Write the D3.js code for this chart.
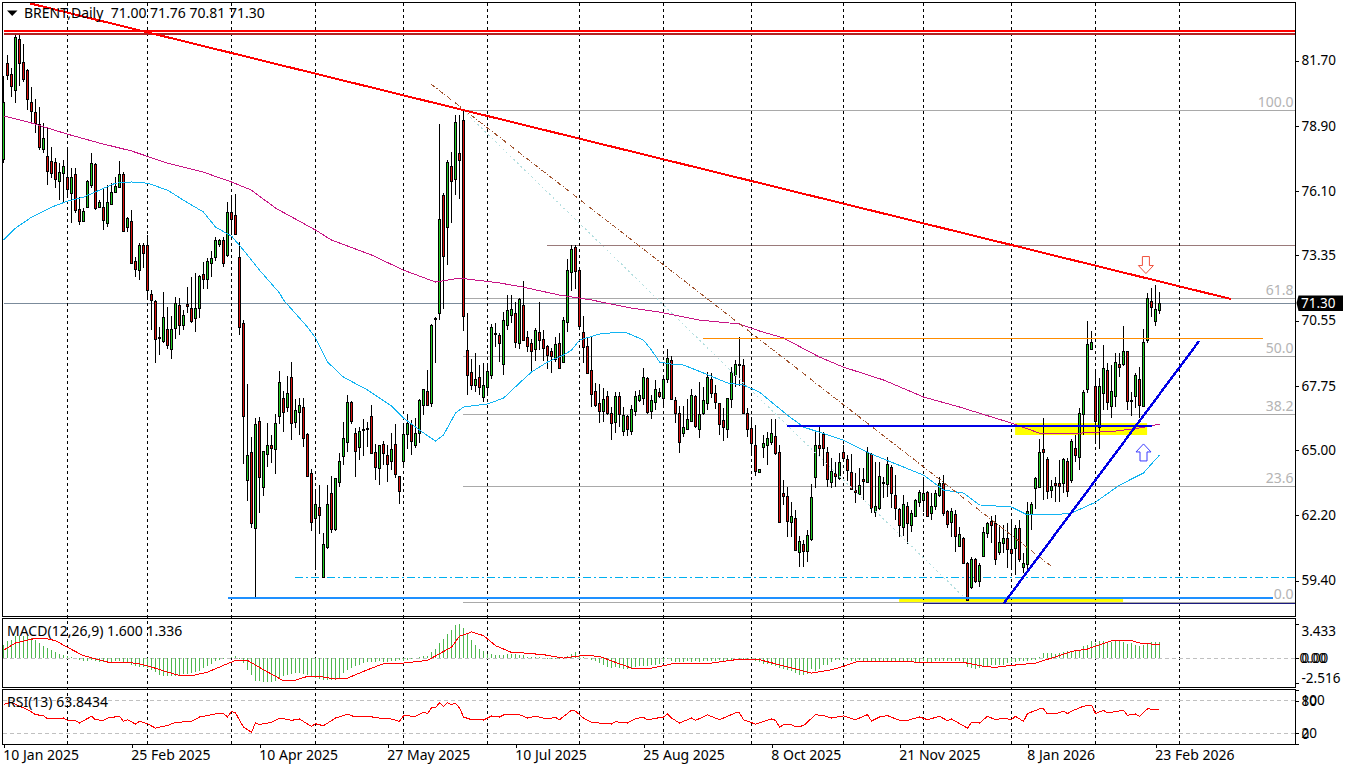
<!DOCTYPE html>
<html><head><meta charset="utf-8">
<script src="https://cdnjs.cloudflare.com/ajax/libs/d3/7.8.5/d3.min.js"></script>
<style>html,body{margin:0;padding:0;background:#fff;overflow:hidden}svg{display:block}
text{font-family:"Noto Sans",Roboto,sans-serif;font-size:13.5px;fill:#000}</style></head><body>
<script>
const opens=[77.47,81.59,81.12,80.43,82.58,81.63,81.25,79.92,79.49,78.97,
77.90,77.60,77.39,77.34,76.53,76.87,76.70,76.01,76.79,75.29,
74.81,75.41,76.36,77.22,75.41,75.41,74.68,75.54,76.06,76.27,
76.83,74.56,74.81,73.10,72.71,73.78,73.78,71.68,71.38,69.80,
69.67,70.18,69.33,70.23,71.21,70.35,71.25,71.08,70.65,71.08,
72.54,72.33,73.01,73.23,73.78,73.96,73.36,75.20,75.07,73.27,
70.40,63.66,64.91,61.61,66.24,63.41,64.78,65.21,65.04,66.41,
67.22,66.84,68.12,66.15,66.62,66.84,65.64,63.97,62.03,62.55,
59.55,60.83,63.15,61.61,63.62,64.69,65.34,67.05,65.72,65.08,
65.85,65.90,66.45,64.87,64.18,65.25,64.78,64.48,65.25,63.88,
64.48,65.68,66.07,65.21,65.72,66.88,67.52,67.01,70.61,70.83,
75.93,74.56,77.17,76.61,77.73,79.14,69.28,68.30,67.78,68.12,
67.27,67.70,68.21,69.97,69.92,68.64,70.31,70.78,70.87,69.58,
71.21,69.80,69.58,69.33,70.05,69.75,69.45,69.20,68.90,69.58,
68.72,70.48,72.63,73.70,72.71,70.05,69.45,68.42,67.52,67.01,
66.67,67.27,66.58,66.15,67.27,65.81,66.45,65.81,66.62,67.14,
67.22,68.08,66.62,67.01,67.48,67.22,68.04,68.85,67.14,66.58,
65.72,65.90,66.24,67.27,65.90,66.58,67.01,68.04,67.40,66.97,
66.28,65.90,67.14,68.21,68.68,68.64,66.58,65.90,65.21,64.05,
65.12,65.17,65.34,65.59,64.87,63.15,63.02,61.91,62.08,60.62,
60.96,60.62,61.18,63.84,65.17,65.68,64.91,63.62,64.01,63.79,
64.87,64.57,64.05,63.28,63.11,63.75,63.62,64.82,62.34,62.46,
63.62,63.54,64.26,63.06,62.46,61.69,62.59,61.78,62.16,62.76,
62.85,63.19,62.29,62.55,63.02,63.54,62.38,61.91,62.25,60.88,
61.18,60.15,59.08,60.28,59.38,60.45,61.43,61.95,61.86,60.62,
61.01,61.22,60.75,60.75,61.61,59.93,60.06,62.21,63.37,63.41,
65.00,64.61,63.24,63.58,63.54,63.58,64.52,63.66,65.08,64.69,
66.54,67.61,69.33,67.70,65.94,67.44,68.42,66.88,67.31,68.68,
68.64,69.24,67.14,67.27,68.00,66.88,69.71,71.38,70.53,71.00];
const highs=[81.03,81.93,81.37,82.87,82.87,82.40,81.33,80.56,80.05,79.70,
79.02,78.84,77.99,77.52,77.30,77.43,77.99,77.09,77.09,75.84,
75.37,76.57,77.73,77.30,75.71,76.23,76.36,76.44,76.70,77.39,
76.91,74.98,75.29,73.27,73.87,73.87,74.21,71.85,71.43,70.27,
71.77,71.13,70.74,71.55,71.51,71.00,71.98,72.41,72.58,72.50,
73.06,73.23,73.53,74.13,74.04,74.13,75.63,75.93,75.97,73.91,
70.57,67.82,65.55,66.37,66.41,64.95,66.15,65.64,66.54,68.38,
67.52,68.17,68.77,67.18,67.22,67.22,65.72,64.18,63.19,63.49,
61.43,63.49,63.88,63.79,64.87,66.19,67.35,67.10,65.94,65.98,
66.32,66.19,66.92,65.25,65.21,65.38,65.21,65.72,66.11,63.88,
66.15,66.54,66.28,66.37,67.18,67.61,68.42,70.40,70.70,78.97,
76.01,77.43,77.77,79.36,79.36,79.62,70.87,68.90,69.15,68.64,
68.72,68.72,70.40,70.44,70.01,70.91,71.64,71.64,71.34,71.51,
72.24,70.10,69.75,70.23,71.34,70.14,69.50,69.37,69.84,70.01,
70.70,73.18,73.78,73.78,72.80,70.74,69.84,69.88,67.87,67.82,
67.65,67.52,66.84,67.48,67.48,66.84,66.49,66.92,67.52,67.57,
68.51,68.12,67.35,68.00,67.65,68.21,69.33,69.03,67.27,66.88,
66.88,67.18,67.61,67.35,67.91,67.70,68.34,68.30,67.78,66.97,
66.80,67.22,68.55,68.85,69.84,68.90,66.80,66.28,66.07,64.18,
65.64,65.77,66.32,66.32,65.21,63.71,63.41,62.76,62.42,61.31,
61.13,61.56,63.54,65.77,65.98,65.77,65.12,64.65,64.48,64.87,
65.21,64.78,64.82,64.01,64.22,64.22,65.12,64.87,64.48,64.48,
63.84,64.69,64.35,63.92,62.51,63.06,62.76,62.42,62.89,63.28,
63.84,63.24,63.15,63.28,63.84,63.92,62.42,62.51,62.42,61.69,
61.26,60.19,60.41,60.36,60.15,61.69,61.92,62.16,62.21,61.78,
61.78,61.86,61.99,61.78,61.99,60.58,62.76,62.76,63.84,65.47,
66.37,64.69,63.71,63.84,64.57,64.65,64.65,65.47,65.64,66.80,
67.57,70.53,70.10,68.42,68.08,69.50,68.72,68.64,69.15,69.15,
70.31,69.24,67.48,68.30,68.55,70.18,71.73,71.94,72.07,71.76];
const lows=[77.30,80.86,80.13,79.87,80.60,80.77,79.57,78.97,78.59,77.86,
77.73,76.36,76.66,76.23,75.71,75.63,75.93,74.73,75.16,74.64,
74.77,75.41,76.23,75.29,75.37,74.43,74.56,75.50,76.01,76.23,
74.34,74.34,73.01,72.41,72.28,72.80,71.51,70.14,68.72,69.07,
69.58,69.33,68.90,69.75,69.93,70.14,70.87,70.44,70.05,70.65,
71.90,71.90,72.41,73.10,73.70,72.84,73.27,74.21,74.21,69.93,
64.39,62.81,61.65,58.65,62.29,63.02,64.26,64.44,63.97,66.11,
65.77,66.62,65.42,65.94,65.64,65.12,63.84,61.52,59.89,61.39,
59.51,60.75,61.44,61.52,63.41,64.35,64.91,66.11,63.84,64.57,
64.74,65.12,64.82,63.71,63.49,64.35,63.62,64.14,63.79,62.68,
64.35,65.04,64.78,65.08,65.29,66.49,66.88,66.84,68.72,70.57,
71.04,72.93,74.73,75.93,75.76,70.10,67.35,67.57,67.48,67.35,
67.05,67.35,68.04,69.41,68.77,68.21,70.14,70.44,69.37,69.33,
69.67,69.20,68.34,68.81,69.28,68.81,68.47,68.30,68.77,68.51,
68.72,70.05,71.81,71.90,70.23,68.72,68.25,66.84,66.84,66.15,
66.19,66.49,65.42,65.72,65.98,65.59,65.59,65.64,66.45,67.05,
66.92,66.54,66.32,66.71,67.22,66.84,67.87,67.14,66.15,64.87,
65.55,65.85,66.24,65.94,65.51,66.49,66.71,67.22,66.75,65.64,
65.38,65.51,66.80,67.70,67.74,66.58,65.55,64.78,63.88,64.00,
64.65,64.35,65.21,64.78,61.86,62.64,61.26,61.26,60.71,59.98,
59.98,60.19,61.09,63.37,64.74,64.31,63.41,63.37,63.41,63.71,
64.48,63.66,63.28,62.72,63.11,62.85,63.62,62.29,62.12,62.42,
62.94,62.98,62.51,62.00,61.26,61.31,60.96,61.47,62.12,62.55,
62.34,62.12,62.00,62.42,62.98,62.16,61.65,61.26,60.62,60.83,
60.11,58.52,59.03,59.29,59.12,60.41,61.22,61.01,60.06,60.49,
60.58,59.93,59.93,59.63,60.19,59.72,59.72,61.56,62.46,63.41,
62.85,62.89,62.94,62.76,62.76,63.15,62.98,63.58,64.48,64.14,
65.64,67.44,69.28,65.29,65.04,66.71,66.71,66.37,66.84,68.12,
68.60,66.71,66.45,66.80,66.37,66.88,69.58,70.70,70.31,70.81];
const closes=[79.92,81.07,80.60,82.70,81.55,80.90,80.00,79.53,79.02,77.99,
78.37,76.96,76.87,76.61,76.91,77.17,76.19,76.70,75.24,74.77,
75.24,76.53,77.30,75.33,75.63,74.86,75.59,76.06,76.31,76.83,
74.38,74.94,73.01,72.76,73.78,73.44,71.85,71.43,69.75,69.75,
70.70,69.50,70.18,71.30,70.35,70.78,71.17,70.53,71.08,72.45,
72.33,73.10,73.23,73.96,73.96,72.97,75.20,74.90,74.26,70.27,
66.41,64.74,61.86,66.07,63.84,64.95,65.17,65.08,66.15,67.87,
66.62,67.44,66.15,66.67,66.92,65.51,63.84,61.86,62.64,62.21,
60.96,62.68,61.61,63.79,64.52,65.47,67.05,66.24,64.95,65.77,
65.87,65.92,64.87,64.22,65.17,64.87,64.39,65.00,63.97,63.24,
65.64,66.15,65.34,65.72,67.14,67.57,66.92,70.35,70.63,74.86,
73.31,77.34,76.53,79.06,77.43,70.74,68.21,67.74,68.04,67.70,
67.78,68.38,70.27,69.99,69.58,70.53,70.96,71.04,69.62,71.47,
69.71,69.41,69.24,70.14,69.71,69.37,69.07,68.98,69.54,68.51,
70.53,72.71,73.61,72.67,70.31,69.41,68.30,67.40,66.92,66.67,
67.18,66.54,66.15,67.27,66.49,66.49,65.90,66.75,67.27,67.35,
68.12,66.62,67.10,67.57,67.31,68.04,68.94,67.18,66.58,65.34,
65.98,66.32,67.35,65.98,66.54,67.14,68.12,67.44,67.01,66.07,
65.98,67.22,68.30,68.68,68.64,66.58,65.90,65.25,64.09,64.18,
65.29,65.47,65.72,64.87,61.86,63.02,61.95,62.16,60.71,61.09,
60.66,61.31,62.98,65.21,65.04,65.08,63.75,64.09,63.88,64.48,
64.61,64.09,63.32,63.19,63.49,63.66,64.91,62.51,62.59,63.84,
63.58,64.39,63.15,62.51,61.78,62.68,61.86,62.29,62.85,63.19,
63.15,62.16,62.59,63.11,63.54,62.25,61.82,62.38,61.31,61.39,
60.11,58.56,60.28,59.33,60.06,61.47,61.86,61.78,60.32,61.05,
61.22,60.75,60.58,61.61,60.28,60.11,62.34,62.64,63.79,64.91,
64.87,63.24,63.41,63.49,63.41,64.61,63.24,65.34,64.78,66.58,
67.48,69.54,69.62,66.20,67.70,68.51,67.05,67.52,68.77,68.55,
69.20,67.10,67.10,68.17,66.88,69.62,71.51,71.12,71.04,71.30];

const maFastIdx=[0,3,7,12,16,20,24,28,32,36,41,45,50,53,57,60,64,69,70,76,78,81,85,91,97,100,104,108,110,113,115,121,125,129,132,136,140,142,144,149,154,156,160,162,164,167,170,175,181,185,189,192,196,200,210,217,230,235,240,244,252,256,262,267,273,279,285,289];
const maFast=[74.0,74.51,74.98,75.41,75.67,75.84,76.14,76.44,76.49,76.44,76.14,75.71,75.2,74.56,74.17,73.57,72.71,71.73,71.43,70.27,69.80,68.77,68.12,67.57,66.88,66.37,65.85,65.38,65.64,66.58,66.84,66.97,67.22,67.87,68.34,68.77,69.07,69.28,69.71,69.97,70.05,70.01,69.71,69.28,68.77,68.68,68.64,68.30,67.87,67.78,67.48,67.05,66.49,65.98,65.42,64.82,63.92,63.28,63.15,62.64,62.55,62.21,62.21,62.29,62.76,63.49,64.01,64.78];
const maSlowIdx=[0,7,16,24,32,41,50,57,62,68,78,82,92,100,108,114,124,130,139,147,157,164,174,184,189,195,204,210,220,230,239,252,259,269,278,284,289];
const maSlow=[79.32,79.02,78.54,78.16,77.82,77.30,76.91,76.49,76.14,75.37,74.43,74.0,73.36,72.71,72.2,72.37,72.16,71.98,71.64,71.43,71.08,70.91,70.57,70.4,70.10,69.80,68.98,68.55,68.0,67.27,66.84,66.15,65.72,65.72,65.81,65.94,66.11];

const macdHist=[1.35,1.68,1.85,2.19,2.26,2.19,2.19,2.02,1.79,1.52,1.25,1.01,0.78,0.64,0.44,0.34,0.24,0.07,-0.03,
-0.17,-0.34,-0.34,-0.24,-0.34,-0.40,-0.44,-0.40,-0.44,-0.34,-0.34,-0.40,-0.47,-0.67,-0.84,-0.91,-0.91,-1.01,-1.18,-1.38,-1.69,-1.79,-1.85,-1.85,-1.85,-1.79,-1.58,-1.58,-1.52,-1.45,-1.28,-1.01,-0.78,-0.61,-0.34,-0.17,-0.10,0,0.10,0.24,-0.10,-0.51,-1.18,-1.72,-2.29,-2.36,-2.46,-2.46,-2.43,-2.29,-2.12,-1.85,-1.69,-1.62,-1.55,-1.52,-1.58,-1.72,-1.85,-2.02,-2.09,-2.19,-2.26,-2.26,-2.19,-2.02,-1.52,-1.18,-1.01,-0.84,-0.67,-0.51,-0.44,-0.40,-0.44,-0.34,-0.40,-0.40,-0.34,-0.34,-0.24,-0.34,-0.17,-0.07,-0.03,0.10,0.17,0.24,0.57,0.91,1.52,1.92,2.46,
2.86,3.37,3.43,3.03,2.53,1.79,1.35,0.94,0.67,0.44,0.37,0.30,0.30,0.34,0.40,0.40,0.40,0.34,0.27,0.13,0.10,0.13,0.07,0,-0.07,-0.10,-0.13,-0.10,0,0.17,0.40,0.61,0.34,0.07,-0.03,-0.17,-0.34,-0.51,-0.67,-0.91,-1.01,-0.91,-1.04,-1.08,-1.11,-1.11,-0.91,-0.84,-0.84,-0.78,-0.67,-0.67,-0.61,-0.44,-0.10,-0.34,-0.40,-0.44,-0.40,-0.34,-0.37,-0.27,-0.40,-0.34,-0.27,-0.30,-0.27,-0.24,-0.34,-0.34,-0.17,0,-0.07,-0.07,-0.07,-0.10,-0.34,-0.44,-0.61,-0.57,-0.67,-0.84,-1.01,-1.08,-1.25,-1.35,-1.52,-1.69,-1.75,-1.58,-1.11,-1.28,-1.11,-0.67,-0.67,-0.44,-0.24,-0.17,-0.17,-0.24,-0.34,-0.27,-0.17,-0.34,-0.27,-0.27,-0.27,-0.27,-0.27,-0.27,-0.27,-0.27,-0.44,
-0.44,-0.44,-0.44,-0.51,-0.44,-0.34,-0.51,-0.40,-0.34,-0.34,-0.34,-0.34,-0.34,-0.34,-0.34,-0.51,-0.91,-1.01,-1.08,-1.01,-0.84,-0.78,-0.67,-0.67,-0.67,-0.67,-0.51,-0.44,-0.44,-0.34,-0.34,-0.34,-0.17,-0.17,0.10,0.51,0.51,0.51,0.44,0.51,0.57,0.67,0.67,0.78,0.78,1.18,1.35,1.69,1.52,1.69,1.69,1.62,1.62,1.69,1.75,1.62,1.45,1.52,1.35,1.25,1.35,1.52,1.58,1.62,1.60];
const macdSignalIdx=[0,3,8,10,13,16,20,26,33,36,41,44,47,51,56,58,61,65,70,73,76,79,83,86,91,95,100,106,112,114,117,120,123,127,130,135,140,145,149,153,157,162,165,168,177,183,189,195,202,207,210,213,217,224,230,240,245,248,252,258,262,267,271,277,282,284,289];
const macdSignal=[0.78,1.52,1.99,2.02,1.75,1.08,0.24,-0.40,-0.51,-0.78,-1.42,-1.76,-1.79,-1.42,-0.57,-0.24,-0.24,-1.18,-2.29,-2.22,-1.85,-1.85,-2.12,-2.02,-1.18,-0.57,-0.51,-0.24,1.11,2.19,2.63,2.26,1.25,0.57,0.51,0.34,0,0.27,0.17,-0.44,-1.01,-1.01,-0.78,-0.51,-0.51,-0.17,-0.17,-0.78,-1.52,-1.18,-0.84,-0.40,-0.30,-0.34,-0.44,-0.44,-0.84,-0.94,-0.74,-0.51,0,0.67,0.91,1.75,1.75,1.52,1.34];
const rsiIdx=[0,2,3,6,8,10,11,12,14,15,16,18,19,20,22,23,25,26,29,30,31,33,34,36,38,41,43,47,49,53,55,56,57,58,60,62,63,64,67,69,72,74,77,78,80,83,86,88,91,94,96,99,100,103,105,106,107,108,109,110,111,112,113,114,115,117,120,122,124,125,127,129,131,133,136,138,139,142,143,145,147,152,153,156,158,160,161,165,166,167,169,172,173,176,179,183,184,185,188,192,193,194,195,197,198,200,203,205,207,210,213,216,217,219,221,224,226,229,231,234,236,237,241,242,244,246,248,250,252,253,255,256,259,260,261,263,265,266,267,270,272,273,275,276,280,281,283,284,286,289];
const rsiValues=[73.2,77.5,73.2,63.8,54.4,52.5,46.9,48.1,46.3,48.1,43.8,43.1,38.8,43.1,51.3,45,43.8,48.1,51.3,41.9,45,36.9,41.9,37.5,29.4,34.4,40,41.9,50,55.6,56.3,50,60.7,57.5,31.3,21.9,39,36.3,40,48.1,43.8,46.3,32.5,37.5,33.8,48.1,55,50,51.3,48.1,48.1,41.9,52.5,51.3,58.8,56.3,66.9,66.9,76.3,70,76.3,73.2,75,66.9,50,45,44.4,51.9,50,53.8,53.8,54.4,48.1,51.3,46.3,49.4,45,62.5,60.7,48.1,40,36.9,41.3,38.8,47,49.4,45,50,55.6,48.1,38.8,48.1,43.8,53.8,45,57.5,57.5,45,36.9,46.3,43.8,31.3,35.6,35.6,31.9,33.8,54.4,52.5,48.1,51.9,45,54.4,42.5,50,52.5,43.8,43.8,50,45,51.3,43.1,46.3,29.4,40,38.8,51.3,45,48.1,45,51.3,41.9,56.3,65,65,55.6,55.6,60.7,56.3,60.7,70,71.9,56.3,62.5,57.5,62.5,53.1,55.6,51.3,65,63.84];

const priceTicks=[81.70,78.90,76.10,73.35,70.55,67.75,65.00,62.20,59.40];
const macdTicks=[3.433,0,-2.516];
const rsiTicks=[100,80,20,0];
const dateTickIdx=[0,32,64,96,128,160,192,224,256,288];
const dateLabels=["10 Jan 2025","25 Feb 2025","10 Apr 2025","27 May 2025","10 Jul 2025","25 Aug 2025","8 Oct 2025","21 Nov 2025","8 Jan 2026","23 Feb 2026"];
const gridIdx=[16,36,57,78,100,121,144,165,187,210,230,252,273,294];
const fibLevels=[0,23.6,38.2,50,61.8,100];
const fibLow=58.45, fibHigh=79.55;
const lastBar=289, edgeIdx=322.9;

const W=1351,H=771,L=2.5,R=1295.5,mainTop=2.5,mainBot=616.5,macdTop=618.5,macdBot=687.5,rsiTop=689.5,rsiBot=744.5;
const x=d3.scaleLinear().domain([0,1]).range([3.5,7.5]);
const y=d3.scaleLinear().domain([59.40,81.70]).range([580.5,60.5]);
const yM=d3.scaleLinear().domain([-2.516,3.433]).range([683,624]);
const yR=d3.scaleLinear().domain([0,100]).range([744,690]);
const px=v=>Math.round(v-.5)+.5;
const svg=d3.select("body").append("svg").attr("width",W).attr("height",H).attr("viewBox",`0 0 ${W} ${H}`);
svg.append("defs").append("clipPath").attr("id","c").append("rect").attr("x",L).attr("y",mainTop).attr("width",R-L).attr("height",mainBot-mainTop);

const bg=svg.append("g").attr("clip-path","url(#c)");
[[252.9,285.9,66.15,65.64],[223.9,279.9,58.63,58.48]].forEach(r=>{
  bg.append("rect").attr("x",x(r[0])).attr("width",x(r[1])-x(r[0])).attr("y",y(r[2])).attr("height",y(r[3])-y(r[2])).attr("fill","#ffff00");
});
svg.append("g").selectAll("line").data(gridIdx).join("line")
  .attr("x1",d=>x(d)).attr("x2",d=>x(d)).attr("y1",mainTop).attr("y2",rsiBot)
  .attr("stroke","#000").attr("stroke-dasharray","3,3").attr("shape-rendering","crispEdges");

const hline=(g,price,i0,i1,color,w,dash)=>g.append("line").attr("x1",x(i0)).attr("x2",x(i1)).attr("y1",px(y(price))).attr("y2",px(y(price))).attr("stroke",color).attr("stroke-width",w).attr("stroke-dasharray",dash||null).attr("shape-rendering","crispEdges");
fibLevels.forEach(l=>{
  const p=fibLow+(fibHigh-fibLow)*l/100;
  hline(bg,p,114.9,edgeIdx,"#a9a9a9",1);
  svg.append("text").attr("x",1293.5).attr("y",y(p)-4).attr("text-anchor","end").style("fill","#b4b4b4").style("font-size","14px").text(l.toFixed(1));
});
hline(bg,71.30,0,edgeIdx,"#7b8b9b",1);
hline(bg,73.78,135.9,edgeIdx,"#9a7a7a",1);
hline(bg,59.54,72.9,edgeIdx,"#00b0f0",1,"8,3,2,3");

const idx=d3.range(closes.length);
const cg=svg.append("g").attr("shape-rendering","crispEdges");
cg.selectAll("line").data(idx).join("line").attr("x1",i=>x(i)).attr("x2",i=>x(i))
  .attr("y1",i=>Math.round(y(highs[i]))).attr("y2",i=>Math.round(y(lows[i]))).attr("stroke","#000");
cg.selectAll("rect").data(idx).join("rect").attr("x",i=>x(i)-1).attr("width",2)
  .attr("y",i=>px(y(Math.max(opens[i],closes[i]))))
  .attr("height",i=>Math.max(1,Math.round(Math.abs(y(opens[i])-y(closes[i])))))
  .attr("fill",i=>closes[i]>opens[i]?"#22cc22":"#d8100c").attr("stroke","#000");

const lineGen=(xs,yScale)=>d3.line().x((d,i)=>x(xs[i])).y(d=>yScale(d));
const curve=(xs,sc,vals,color)=>svg.append("path").attr("d",lineGen(xs,sc)(vals)).attr("fill","none").attr("stroke",color).attr("stroke-width",1).attr("shape-rendering","crispEdges");
curve(maSlowIdx,y,maSlow,"#c71585");
curve(maFastIdx,y,maFast,"#12b4f2");

const seg=(g,a,b,c,d,color,w,dash)=>g.append("line").attr("x1",x(a)).attr("y1",y(b)).attr("x2",x(c)).attr("y2",y(d)).attr("stroke",color).attr("stroke-width",w).attr("stroke-dasharray",dash||null).attr("shape-rendering","crispEdges");
const ov=svg.append("g").attr("clip-path","url(#c)");
seg(ov,114.9,79.57,241.1,58.52,"#b5dfe0",1,"2,3");
seg(ov,106.9,80.69,261.9,60.02,"#a0522d",1,"5,2,1,2");
hline(ov,83.00,0,edgeIdx,"#ff0000",2);
hline(ov,82.85,0,edgeIdx,"#b22222",2);
hline(ov,69.78,174.9,314.9,"#ff8c00",1);
hline(ov,66.04,195.9,287.1,"#0000e6",2);
hline(ov,58.66,56,317.4,"#1e90ff",2);
hline(ov,58.43,229.9,edgeIdx,"#1a1a80",1);
seg(ov,6.6,84.15,306.9,71.47,"#ff0000",2);
seg(ov,250.1,58.43,298.9,69.67,"#0000e6",2.4);
const arrow=(i,p,dir,color)=>{const cx=x(i),cy=y(p);
  const pts=[[0,-9],[7.5,-1],[3.5,-1],[3.5,8],[-3.5,8],[-3.5,-1],[-7.5,-1]].map(q=>[cx+q[0],cy+q[1]*dir]);
  svg.append("polygon").attr("points",pts.join(" ")).attr("fill","#fff").attr("stroke",color).attr("stroke-width",1);};
arrow(285.6,72.95,-1,"#f0503c");
arrow(285,64.87,1,"#3a3aff");

svg.append("line").attr("x1",L).attr("x2",R).attr("y1",658.5).attr("y2",658.5).attr("stroke","#c0c0c0").attr("stroke-dasharray","4,3").attr("shape-rendering","crispEdges");
svg.append("g").selectAll("line").data(macdHist).join("line").attr("shape-rendering","crispEdges")
  .attr("x1",(d,i)=>x(i)).attr("x2",(d,i)=>x(i)).attr("y1",yM(0)).attr("y2",d=>yM(d)).attr("stroke","#4fb84f");
curve(macdSignalIdx,yM,macdSignal,"#ff0000");

[80,20].forEach(v=>svg.append("line").attr("x1",L).attr("x2",R).attr("y1",px(yR(v))).attr("y2",px(yR(v))).attr("stroke","#c0c0c0").attr("stroke-dasharray","4,3").attr("shape-rendering","crispEdges"));
curve(rsiIdx,yR,rsiValues,"#ff0000");

[[mainTop,mainBot],[macdTop,macdBot],[rsiTop,rsiBot]].forEach(f=>svg.append("rect").attr("x",L).attr("y",f[0]).attr("width",R-L).attr("height",f[1]-f[0]).attr("fill","none").attr("stroke","#000").attr("shape-rendering","crispEdges"));

const styleAxis=(g,fs)=>{g.select(".domain").remove();g.selectAll("line").attr("stroke","#000").attr("shape-rendering","crispEdges");g.selectAll("text").style("font-family",'"Noto Sans",Roboto,sans-serif').style("font-size",(fs||13.5)+"px").style("fill","#000");};
svg.append("g").attr("transform",`translate(${R},0)`).call(d3.axisRight(y).tickValues(priceTicks).tickFormat(d3.format(".2f")).tickSize(3).tickPadding(3)).call(styleAxis);
const ma=svg.append("g").attr("transform",`translate(${R},0)`).call(d3.axisRight(yM).tickValues(macdTicks).tickFormat(d=>d===0?"0.00":String(d)).tickSize(3).tickPadding(3)).call(styleAxis);
ma.selectAll("text").attr("dy",d=>d>1?"0.85em":d<-1?"-0.05em":"0.32em");
const ra=svg.append("g").attr("transform",`translate(${R},0)`).call(d3.axisRight(yR).tickValues(rsiTicks).tickSize(3).tickPadding(3)).call(styleAxis);
ra.selectAll("text").attr("dy",d=>d===100?"1.05em":d===0?"-0.4em":"0.32em");
svg.append("text").attr("x",R+3.9).attr("y",yM(0)+4.5).text("0.00");
svg.append("g").attr("transform",`translate(0,${rsiBot})`).call(d3.axisBottom(x).tickValues(dateTickIdx).tickFormat((d,i)=>dateLabels[i]).tickSize(3).tickPadding(3)).call(g=>styleAxis(g,14)).selectAll("text").attr("text-anchor","start").attr("dx","-0.05em");

const ly=y(closes[lastBar]);
svg.append("polygon").attr("points",[[R+1,ly],[R+3,ly-7.5],[1343,ly-7.5],[1343,ly+8],[R+3,ly+8]].join(" ")).attr("fill","#000");
svg.append("text").attr("x",1301).attr("y",ly+5).style("fill","#fff").text(closes[lastBar].toFixed(2));

svg.append("polygon").attr("points",[[7,10.5],[17.5,10.5],[12.2,16]].join(" ")).attr("fill","#000");
svg.append("text").attr("x",24).attr("y",18).style("white-space","pre").style("font-size","14px").text(`BRENT,Daily  ${opens[lastBar].toFixed(2)} ${highs[lastBar].toFixed(2)} ${lows[lastBar].toFixed(2)} ${closes[lastBar].toFixed(2)}`);
svg.append("text").attr("x",7).attr("y",636).style("font-size","14px").text("MACD(12,26,9) 1.600 1.336");
svg.append("text").attr("x",7).attr("y",707).style("font-size","14px").text("RSI(13) 63.8434");
</script></body></html>
